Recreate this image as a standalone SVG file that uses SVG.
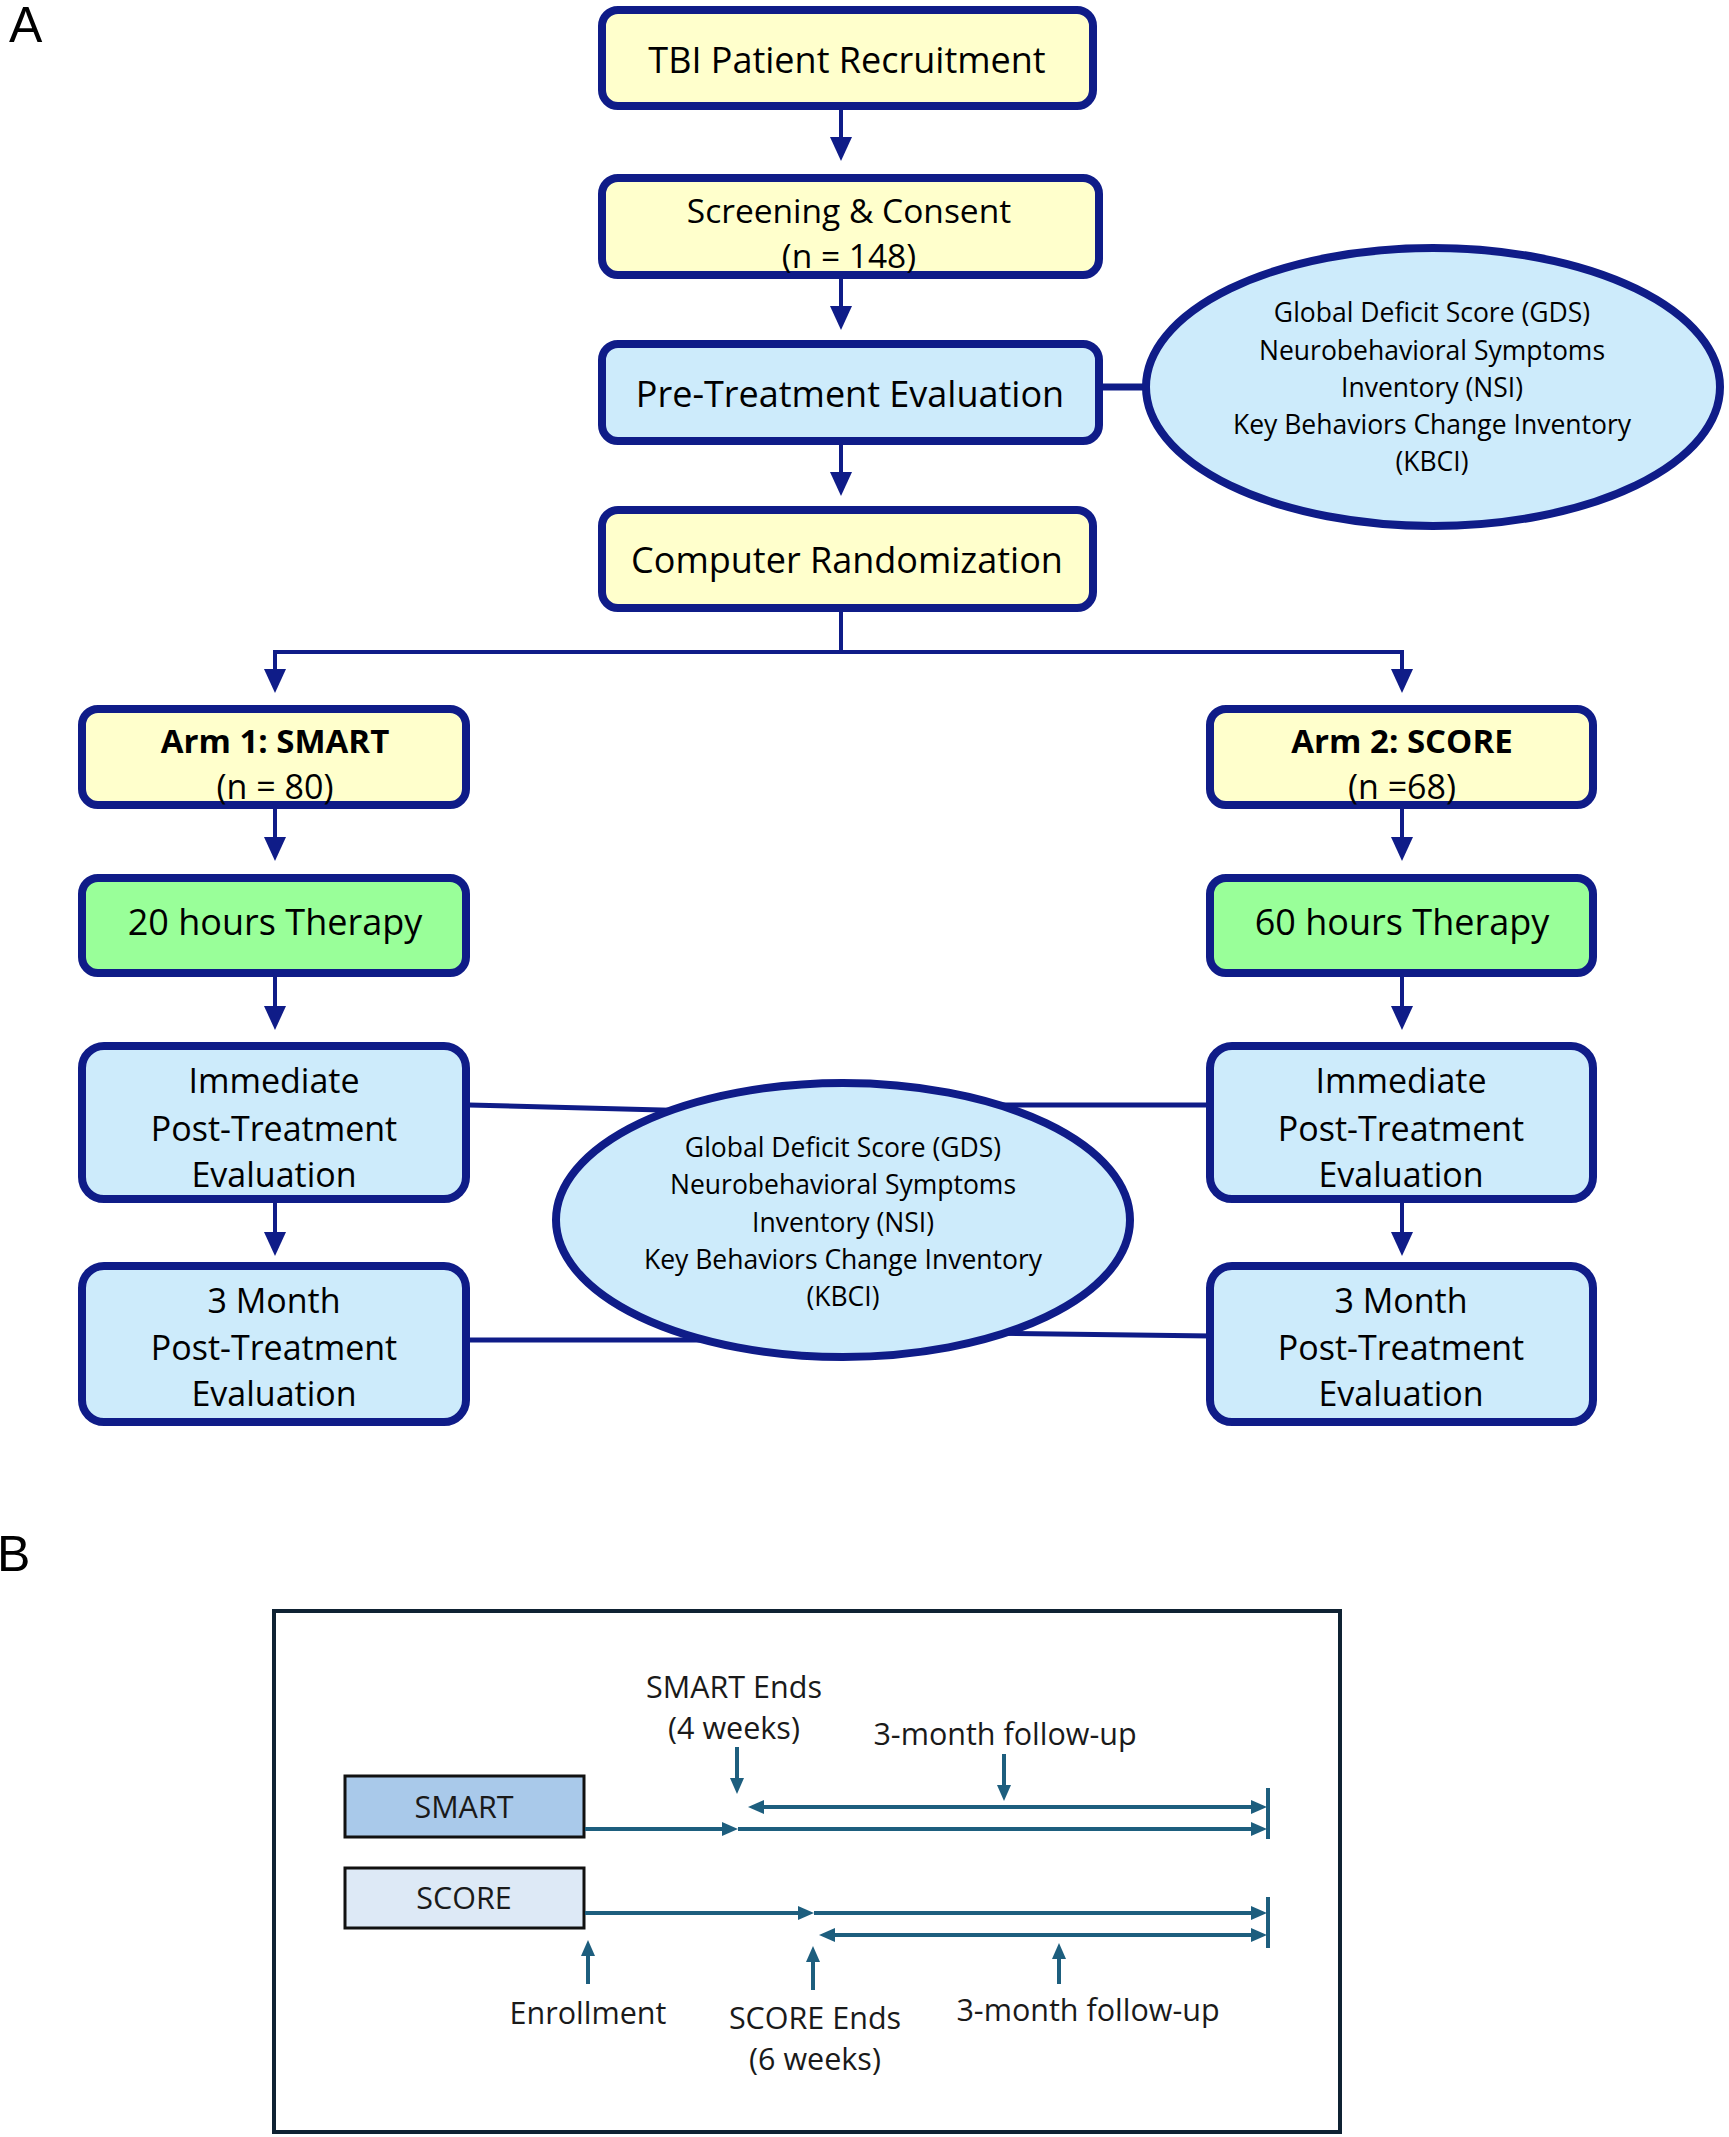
<svg xmlns="http://www.w3.org/2000/svg" width="1729" height="2137" viewBox="0 0 1729 2137">
<style>
  .box{stroke:#0f1c88;stroke-width:8}
  .yel{fill:#ffffcc}
  .blu{fill:#cdebfb}
  .grn{fill:#99ff99}
  .ell{fill:#cdebfb;stroke:#0f1c88;stroke-width:8}
  .t{font-family:"Open Sans","Noto Sans",sans-serif;fill:#000;text-anchor:middle}
  .t36{font-size:36px}
  .t33{font-size:33.5px}
  .t34{font-size:34px}
  .tb{font-size:33px;font-weight:bold}
  .t26{font-size:26.5px}
  .tB{font-family:"Open Sans","Noto Sans",sans-serif;font-size:30.5px;fill:#1a1a1a;text-anchor:middle}
  .lab{font-family:"Liberation Sans",Arial,sans-serif;font-size:50px;fill:#000}
  .arr{stroke:#0f1c88;stroke-width:4;fill:none;marker-end:url(#ah)}
  .link{stroke:#0f1c88;stroke-width:5;fill:none}
  .tl{stroke:#1d5e7e;stroke-width:4;fill:none}
  .tla{stroke:#1d5e7e;stroke-width:4;fill:none;marker-end:url(#sh)}
  .tld{stroke:#1d5e7e;stroke-width:4;fill:none;marker-start:url(#sh);marker-end:url(#sh)}
</style>
<defs>
  <marker id="ah" viewBox="0 0 24 22" refX="12" refY="11" markerWidth="24" markerHeight="22" markerUnits="userSpaceOnUse" orient="auto">
    <path d="M0,0 L24,11 L0,22 Z" fill="#0f1c88"/>
  </marker>
  <marker id="sh" viewBox="0 0 16 14" refX="8" refY="7" markerWidth="16" markerHeight="14" markerUnits="userSpaceOnUse" orient="auto-start-reverse">
    <path d="M0,0 L16,7 L0,14 Z" fill="#1d5e7e"/>
  </marker>
</defs>
<rect width="1729" height="2137" fill="#fff"/>

<text class="lab" x="9" y="42">A</text>
<text class="lab" x="-3" y="1571">B</text>

<g id="connectors">
  <path class="arr" d="M841,110 V149"/>
  <path class="arr" d="M841,279 V318"/>
  <path class="arr" d="M841,445 V484"/>
  <path d="M841,612 V652 M275,652 H1402" stroke="#0f1c88" stroke-width="4" fill="none"/>
  <path class="arr" d="M275,650 V681"/>
  <path class="arr" d="M1402,650 V681"/>
  <path class="arr" d="M275,809 V849"/>
  <path class="arr" d="M1402,809 V849"/>
  <path class="arr" d="M275,977 V1018"/>
  <path class="arr" d="M1402,977 V1018"/>
  <path class="arr" d="M275,1202 V1244"/>
  <path class="arr" d="M1402,1202 V1244"/>
  <path d="M1103,387 H1160" stroke="#0f1c88" stroke-width="7" fill="none"/>
  <path class="link" d="M469,1105 L700,1111"/>
  <path class="link" d="M980,1105 H1212"/>
  <path class="link" d="M469,1340 H710"/>
  <path class="link" d="M980,1333 L1212,1336"/>
</g>

<g id="n-recruit">
  <rect class="box yel" x="602" y="10" width="491" height="96" rx="16"/>
  <text class="t t36" x="847" y="73">TBI Patient Recruitment</text>
</g>
<g id="n-screening">
  <rect class="box yel" x="602" y="178" width="497" height="97" rx="16"/>
  <text class="t t33" x="849" y="223">Screening &amp; Consent</text>
  <text class="t t33" x="849" y="268">(n = 148)</text>
</g>
<g id="n-pre">
  <rect class="box blu" x="602" y="344" width="497" height="97" rx="16"/>
  <text class="t t36" x="850" y="407">Pre-Treatment Evaluation</text>
</g>
<g id="n-measures-top">
  <ellipse class="ell" cx="1433" cy="387" rx="287" ry="139"/>
  <text class="t t26" x="1432" y="322">Global Deficit Score (GDS)</text>
  <text class="t t26" x="1432" y="360">Neurobehavioral Symptoms</text>
  <text class="t t26" x="1432" y="397">Inventory (NSI)</text>
  <text class="t t26" x="1432" y="434">Key Behaviors Change Inventory</text>
  <text class="t t26" x="1432" y="471">(KBCI)</text>
</g>
<g id="n-random">
  <rect class="box yel" x="602" y="510" width="491" height="98" rx="16"/>
  <text class="t t36" x="847" y="573">Computer Randomization</text>
</g>

<g id="n-arm1">
  <rect class="box yel" x="82" y="709" width="384" height="96" rx="16"/>
  <text class="t tb" x="275" y="753">Arm 1: SMART</text>
  <text class="t t34" x="275" y="799">(n = 80)</text>
</g>
<g id="n-arm2">
  <rect class="box yel" x="1210" y="709" width="383" height="96" rx="16"/>
  <text class="t tb" x="1402" y="753">Arm 2: SCORE</text>
  <text class="t t34" x="1402" y="799">(n =68)</text>
</g>
<g id="n-ther1">
  <rect class="box grn" x="82" y="878" width="384" height="95" rx="16"/>
  <text class="t t36" x="275" y="935">20 hours Therapy</text>
</g>
<g id="n-ther2">
  <rect class="box grn" x="1210" y="878" width="383" height="95" rx="16"/>
  <text class="t t36" x="1402" y="935">60 hours Therapy</text>
</g>
<g id="n-imm1">
  <rect class="box blu" x="82" y="1046" width="384" height="153" rx="22"/>
  <text class="t t34" x="274" y="1093">Immediate</text>
  <text class="t t34" x="274" y="1141">Post-Treatment</text>
  <text class="t t34" x="274" y="1187">Evaluation</text>
</g>
<g id="n-imm2">
  <rect class="box blu" x="1210" y="1046" width="383" height="153" rx="22"/>
  <text class="t t34" x="1401" y="1093">Immediate</text>
  <text class="t t34" x="1401" y="1141">Post-Treatment</text>
  <text class="t t34" x="1401" y="1187">Evaluation</text>
</g>
<g id="n-3m1">
  <rect class="box blu" x="82" y="1266" width="384" height="156" rx="22"/>
  <text class="t t34" x="274" y="1313">3 Month</text>
  <text class="t t34" x="274" y="1360">Post-Treatment</text>
  <text class="t t34" x="274" y="1406">Evaluation</text>
</g>
<g id="n-3m2">
  <rect class="box blu" x="1210" y="1266" width="383" height="156" rx="22"/>
  <text class="t t34" x="1401" y="1313">3 Month</text>
  <text class="t t34" x="1401" y="1360">Post-Treatment</text>
  <text class="t t34" x="1401" y="1406">Evaluation</text>
</g>
<g id="n-measures-mid">
  <ellipse class="ell" cx="843" cy="1220" rx="287" ry="137"/>
  <text class="t t26" x="843" y="1157">Global Deficit Score (GDS)</text>
  <text class="t t26" x="843" y="1194">Neurobehavioral Symptoms</text>
  <text class="t t26" x="843" y="1232">Inventory (NSI)</text>
  <text class="t t26" x="843" y="1269">Key Behaviors Change Inventory</text>
  <text class="t t26" x="843" y="1306">(KBCI)</text>
</g>

<g id="panel-b">
  <rect x="274" y="1611" width="1066" height="521" fill="none" stroke="#0f2233" stroke-width="4"/>
  <g id="n-smart">
    <rect x="345" y="1776" width="239" height="61" fill="#a9c9ea" stroke="#111" stroke-width="3"/>
    <text class="tB" x="464" y="1818">SMART</text>
  </g>
  <g id="n-score">
    <rect x="345" y="1868" width="239" height="60" fill="#dde9f6" stroke="#111" stroke-width="3"/>
    <text class="tB" x="464" y="1909">SCORE</text>
  </g>
  <g id="timeline">
    <path class="tla" d="M585,1829 H730"/>
    <path class="tla" d="M738,1829 H1259"/>
    <path class="tld" d="M756,1807 H1259"/>
    <path class="tl" d="M1268,1788 V1839"/>
    <path class="tla" d="M585,1913 H806"/>
    <path class="tla" d="M814,1913 H1259"/>
    <path class="tld" d="M827,1935 H1259"/>
    <path class="tl" d="M1268,1897 V1948"/>
    <path class="tla" d="M737,1747 V1786"/>
    <path class="tla" d="M1004,1754 V1793"/>
    <path class="tla" d="M588,1984 V1948"/>
    <path class="tla" d="M813,1990 V1954"/>
    <path class="tla" d="M1059,1984 V1951"/>
  </g>
  <text class="tB" x="734" y="1698">SMART Ends</text>
  <text class="tB" x="734" y="1739">(4 weeks)</text>
  <text class="tB" x="1005" y="1745">3-month follow-up</text>
  <text class="tB" x="588" y="2024">Enrollment</text>
  <text class="tB" x="815" y="2029">SCORE Ends</text>
  <text class="tB" x="815" y="2070">(6 weeks)</text>
  <text class="tB" x="1088" y="2021">3-month follow-up</text>
</g>
</svg>
